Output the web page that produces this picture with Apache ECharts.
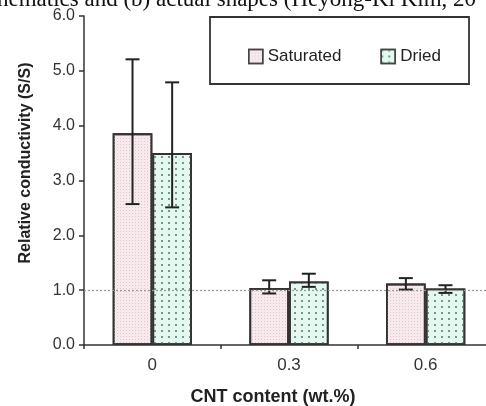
<!DOCTYPE html>
<html>
<head>
<meta charset="utf-8">
<script src="https://cdn.jsdelivr.net/npm/echarts@6/dist/echarts.min.js"></script>
<style>html,body{margin:0;padding:0;background:#fff;}#c{width:486px;height:406px;}</style>
</head>
<body>
<div id="c"></div>
<script>
const categories = ['0', '0.3', '0.6'];
const seriesNames = ['Saturated', 'Dried'];
const satVals = [3.86, 1.04, 1.12];
const satHigh = [5.21, 1.18, 1.22];
const satLow = [2.57, 0.94, 1.01];
const driedVals = [3.50, 1.16, 1.03];
const driedHigh = [4.79, 1.30, 1.09];
const driedLow = [2.51, 1.06, 0.95];
const refValue = 1.0;
const xTitle = 'CNT content (wt.%)';
const yTitle = 'Relative conductivity (S/S)';
const topCaption = 'hematics and (b) actual shapes (Heyong-Ki Kim, 20';

const BAR_FRAC = 0.29;
const chart = echarts.init(document.getElementById('c'), null, {renderer: 'canvas'});

function errSeries(name, high, low, side) {
  return {
    type: 'custom',
    name: name + ' err',
    z: 5,
    data: categories.map((c, i) => [i, low[i], high[i]]),
    renderItem: function (params, api) {
      const i = api.value(0);
      const band = api.size([1, 0])[0];
      const off = side * band * BAR_FRAC / 2;
      const top = api.coord([i, api.value(2)]);
      const bot = api.coord([i, api.value(1)]);
      const x = top[0] + off;
      const cap = 7;
      const st = {stroke: '#222', lineWidth: 2};
      return {type: 'group', children: [
        {type: 'line', shape: {x1: x, y1: top[1], x2: x, y2: bot[1]}, style: st},
        {type: 'line', shape: {x1: x - cap, y1: top[1], x2: x + cap, y2: top[1]}, style: st},
        {type: 'line', shape: {x1: x - cap, y1: bot[1], x2: x + cap, y2: bot[1]}, style: st}
      ]};
    },
    encode: {x: 0, y: [1, 2]},
    silent: true
  };
}

const satStyle = {
  color: '#f8eaec', borderColor: '#333', borderWidth: 1.8,
  decal: {symbol: 'rect', symbolSize: 1, dashArrayX: [1, 2], dashArrayY: [1, 2], color: '#dcc8cc'}
};
const driedStyle = {
  color: '#e4f8f0', borderColor: '#333', borderWidth: 1.8,
  decal: {symbol: 'rect', symbolSize: 1, dashArrayX: [2, 5], dashArrayY: [2, 4], color: '#6f9a8a'}
};

chart.setOption({
  animation: false,
  textStyle: {fontFamily: 'Liberation Sans, Arial, sans-serif'},
  grid: {left: 84, top: 16, height: 329, width: 410, containLabel: false, outerBoundsMode: 'none'},
  legend: {
    data: seriesNames,
    left: 243, top: 43,
    icon: 'rect', itemWidth: 14, itemHeight: 14, itemGap: 39, itemTextGap: 6,
    textStyle: {fontSize: 17, color: '#222', fontFamily: 'Liberation Sans, Arial, sans-serif'},
    itemStyle: {borderColor: '#444', borderWidth: 1.5}
  },
  xAxis: {
    type: 'category', data: categories,
    axisLine: {lineStyle: {color: '#333', width: 1.5}},
    axisTick: {show: true, length: 4, lineStyle: {color: '#333', width: 1.5}},
    axisLabel: {fontSize: 17, color: '#333', margin: 12}
  },
  yAxis: {
    type: 'value', min: 0, max: 6, interval: 1,
    axisLine: {show: true, lineStyle: {color: '#333', width: 1.5}},
    axisTick: {show: true, length: 5, lineStyle: {color: '#333', width: 1.5}},
    axisLabel: {fontSize: 16, color: '#333', margin: 9, formatter: v => v.toFixed(1)},
    splitLine: {show: false}
  },
  graphic: [
    {type: 'rect', shape: {x: 210, y: 17, width: 259, height: 67}, style: {fill: 'none', stroke: '#333', lineWidth: 1.8}, z: 10},
    {type: 'text', x: 26, y: 163, rotation: Math.PI / 2,
     style: {text: yTitle, fontSize: 16, fontWeight: 'bold', fill: '#222', align: 'center', verticalAlign: 'middle', fontFamily: 'Liberation Sans, Arial, sans-serif'}},
    {type: 'text', x: 273, y: 397,
     style: {text: xTitle, fontSize: 18, fontWeight: 'bold', fill: '#222', align: 'center', verticalAlign: 'middle', fontFamily: 'Liberation Sans, Arial, sans-serif'}},
    {type: 'text', x: -3, y: -12,
     style: {text: topCaption, fontSize: 23, fill: '#111', align: 'left', verticalAlign: 'top', fontFamily: 'Liberation Serif, Times New Roman, serif'}}
  ],
  series: [
    {type: 'bar', name: seriesNames[0], data: satVals, barWidth: (BAR_FRAC * 100) + '%', barGap: '0%', itemStyle: satStyle},
    {type: 'bar', name: seriesNames[1], data: driedVals, barWidth: (BAR_FRAC * 100) + '%', barGap: '0%', itemStyle: driedStyle,
     markLine: {silent: true, symbol: ['none', 'none'], label: {show: false}, z: 6,
       lineStyle: {color: '#999', type: [2, 2], width: 1.2}, data: [{yAxis: refValue}]}},
    errSeries(seriesNames[0], satHigh, satLow, -1),
    errSeries(seriesNames[1], driedHigh, driedLow, 1)
  ]
});
</script>
</body>
</html>
